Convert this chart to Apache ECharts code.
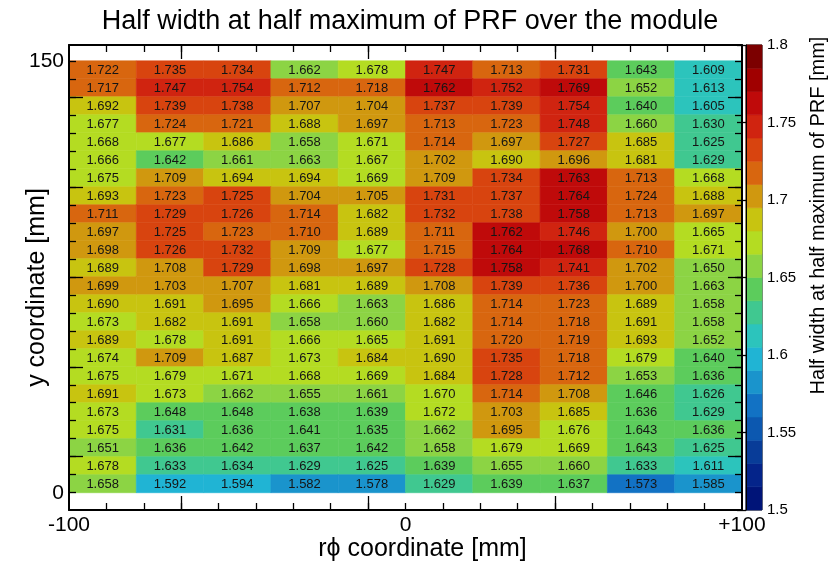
<!DOCTYPE html>
<html>
<head>
<meta charset="utf-8">
<title>PRF half width over the module</title>
<script src="https://cdn.jsdelivr.net/npm/echarts@6/dist/echarts.min.js"></script>
<style>
  html, body { margin: 0; padding: 0; background: #fff; }
  #chart { width: 840px; height: 565px; }
</style>
</head>
<body>
<div id="chart"></div>
<script>
// cell edges in mm
const colEdges = [-100, -80, -60, -40, -20, 0, 20, 40, 60, 80, 100];
const rowEdges = [0, 6.25, 12.5, 18.75, 25, 31.25, 37.5, 43.75, 50, 56.25, 62.5, 68.75,
  75, 81.25, 87.5, 93.75, 100, 106.25, 112.5, 118.75, 125, 131.25, 137.5, 143.75, 150];

// HWHM of the PRF [mm], top row first, columns left to right
const hwhm = [
  [1.722, 1.735, 1.734, 1.662, 1.678, 1.747, 1.713, 1.731, 1.643, 1.609],
  [1.717, 1.747, 1.754, 1.712, 1.718, 1.762, 1.752, 1.769, 1.652, 1.613],
  [1.692, 1.739, 1.738, 1.707, 1.704, 1.737, 1.739, 1.754, 1.640, 1.605],
  [1.677, 1.724, 1.721, 1.688, 1.697, 1.713, 1.723, 1.748, 1.660, 1.630],
  [1.668, 1.677, 1.686, 1.658, 1.671, 1.714, 1.697, 1.727, 1.685, 1.625],
  [1.666, 1.642, 1.661, 1.663, 1.667, 1.702, 1.690, 1.696, 1.681, 1.629],
  [1.675, 1.709, 1.694, 1.694, 1.669, 1.709, 1.734, 1.763, 1.713, 1.668],
  [1.693, 1.723, 1.725, 1.704, 1.705, 1.731, 1.737, 1.764, 1.724, 1.688],
  [1.711, 1.729, 1.726, 1.714, 1.682, 1.732, 1.738, 1.758, 1.713, 1.697],
  [1.697, 1.725, 1.723, 1.710, 1.689, 1.711, 1.762, 1.746, 1.700, 1.665],
  [1.698, 1.726, 1.732, 1.709, 1.677, 1.715, 1.764, 1.768, 1.710, 1.671],
  [1.689, 1.708, 1.729, 1.698, 1.697, 1.728, 1.758, 1.741, 1.702, 1.650],
  [1.699, 1.703, 1.707, 1.681, 1.689, 1.708, 1.739, 1.736, 1.700, 1.663],
  [1.690, 1.691, 1.695, 1.666, 1.663, 1.686, 1.714, 1.723, 1.689, 1.658],
  [1.673, 1.682, 1.691, 1.658, 1.660, 1.682, 1.714, 1.718, 1.691, 1.658],
  [1.689, 1.678, 1.691, 1.666, 1.665, 1.691, 1.720, 1.719, 1.693, 1.652],
  [1.674, 1.709, 1.687, 1.673, 1.684, 1.690, 1.735, 1.718, 1.679, 1.640],
  [1.675, 1.679, 1.671, 1.668, 1.669, 1.684, 1.728, 1.712, 1.653, 1.636],
  [1.691, 1.673, 1.662, 1.655, 1.661, 1.670, 1.714, 1.708, 1.646, 1.626],
  [1.673, 1.648, 1.648, 1.638, 1.639, 1.672, 1.703, 1.685, 1.636, 1.629],
  [1.675, 1.631, 1.636, 1.641, 1.635, 1.662, 1.695, 1.676, 1.643, 1.636],
  [1.651, 1.636, 1.642, 1.637, 1.642, 1.658, 1.679, 1.669, 1.643, 1.625],
  [1.678, 1.633, 1.634, 1.629, 1.625, 1.639, 1.655, 1.660, 1.633, 1.611],
  [1.658, 1.592, 1.594, 1.582, 1.578, 1.629, 1.639, 1.637, 1.573, 1.585]
];

// axis ticks / labels
const xLabels = [-100, 0, 100];
const yLabels = [0, 150];
const xMajorTicks = [-66.67, -11.11, 44.44];
const xMinorTicks = [-88.89, -77.78, -66.67, -55.56, -44.44, -33.33, -22.22, -11.11, 0,
  11.11, 22.22, 33.33, 44.44, 55.56, 66.67, 77.78, 88.89];
const yMajorTicks = [12.5, 43.75, 75, 106.25, 137.5];
const yMinorTicks = rowEdges;

// colour palette, 20 bands from 1.5 to 1.8
const bandEdges = [1.5, 1.515, 1.53, 1.545, 1.56, 1.575, 1.59, 1.605, 1.62, 1.635, 1.65,
  1.665, 1.68, 1.695, 1.71, 1.725, 1.74, 1.755, 1.77, 1.785, 1.8];
const palette = ['#001478', '#04248a', '#083c98', '#0c58b0', '#1272c4', '#1a94cc', '#20b4d4',
  '#2cc4bc', '#40c890', '#5ccc5c', '#8cd444', '#b4dc22', '#c8c410', '#d0980f', '#d8660f',
  '#d8440f', '#d02410', '#bf0a0a', '#a00000', '#7c0000'];

const FONT = '"Liberation Sans", Arial, Helvetica, sans-serif';
const nRows = hwhm.length;

const cellData = [];
hwhm.forEach((row, i) => {
  row.forEach((v, j) => {
    cellData.push([j, nRows - 1 - i, v]);
  });
});

const bandData = [];
for (let k = 0; k < palette.length; k++) {
  bandData.push([bandEdges[k], bandEdges[k + 1], (bandEdges[k] + bandEdges[k + 1]) / 2]);
}

const pieces = palette.map((c, k) => {
  const p = { gte: bandEdges[k], color: c };
  if (k === palette.length - 1) p.lte = bandEdges[k + 1];
  else p.lt = bandEdges[k + 1];
  return p;
});

const renderCell = (params, api) => {
  const c = api.value(0);
  const r = api.value(1);
  const p0 = api.coord([colEdges[c], rowEdges[r + 1]]);
  const p1 = api.coord([colEdges[c + 1], rowEdges[r]]);
  const color = api.visual('color');
  return {
    type: 'group',
    children: [
      {
        type: 'rect',
        shape: { x: p0[0], y: p0[1], width: p1[0] - p0[0], height: p1[1] - p0[1] },
        style: { fill: color, stroke: color, lineWidth: 0.6 }
      },
      {
        type: 'text',
        style: {
          text: api.value(2).toFixed(3),
          x: (p0[0] + p1[0]) / 2,
          y: (p0[1] + p1[1]) / 2 + 1,
          align: 'center',
          verticalAlign: 'middle',
          font: '13px ' + FONT,
          fill: '#151515'
        }
      }
    ]
  };
};

const renderBand = (params, api) => {
  const p0 = api.coord([0, api.value(1)]);
  const p1 = api.coord([1, api.value(0)]);
  const color = api.visual('color');
  return {
    type: 'rect',
    shape: { x: p0[0], y: p0[1], width: p1[0] - p0[0], height: p1[1] - p0[1] },
    style: { fill: color, stroke: color, lineWidth: 0.6 }
  };
};

const tickAxis = (kind, gridIndex, position, ticks, len, withLine) => ({
  type: 'value',
  gridIndex: gridIndex,
  position: position,
  min: kind === 'x' ? -100 : -6,
  max: kind === 'x' ? 100 : 155.5,
  z: 5,
  axisLine: { show: withLine, onZero: false, lineStyle: { color: '#000', width: 2 } },
  axisTick: { show: true, inside: true, length: len, customValues: ticks,
    lineStyle: { color: '#000', width: 1.3 } },
  axisLabel: { show: false },
  splitLine: { show: false }
});

const chartDom = document.getElementById('chart');
const chart = echarts.init(chartDom);

const xMain = tickAxis('x', 0, 'bottom', xMajorTicks, 14, true);
xMain.axisLabel = {
  show: true,
  customValues: xLabels,
  formatter: (v) => (v > 0 ? '+' + v : String(v)),
  fontSize: 21,
  fontFamily: FONT,
  color: '#000',
  margin: 5
};
xMain.name = 'rϕ coordinate [mm]';
xMain.nameLocation = 'middle';
xMain.nameGap = 27;
xMain.nameMoveOverlap = false;
xMain.nameTextStyle = { fontSize: 25, fontFamily: FONT, color: '#000', padding: [0, 0, 0, 34] };

const yMain = tickAxis('y', 0, 'left', yMajorTicks, 14, true);
yMain.axisLabel = {
  show: true,
  customValues: yLabels,
  fontSize: 21,
  fontFamily: FONT,
  color: '#000',
  margin: 5
};
yMain.name = 'y coordinate [mm]';
yMain.nameLocation = 'middle';
yMain.nameGap = 19;
yMain.nameRotate = 90;
yMain.nameMoveOverlap = false;
yMain.nameTextStyle = { fontSize: 25, fontFamily: FONT, color: '#000', padding: [0, 20, 0, 0] };

chart.setOption({
  animation: false,
  backgroundColor: '#fff',
  title: {
    text: 'Half width at half maximum of PRF over the module',
    left: 405,
    top: 3,
    textAlign: 'center',
    textStyle: { fontSize: 27, fontWeight: 'normal', fontFamily: FONT, color: '#000' }
  },
  grid: [
    { left: 69, right: 98, top: 45, bottom: 55, outerBoundsMode: 'none', containLabel: false },
    { left: 746, right: 78, top: 45, bottom: 55, outerBoundsMode: 'none', containLabel: false,
      show: true, borderColor: '#000', borderWidth: 1, backgroundColor: 'transparent' }
  ],
  visualMap: {
    type: 'piecewise',
    show: false,
    dimension: 2,
    seriesIndex: [0, 1],
    pieces: pieces
  },
  xAxis: [
    xMain,
    tickAxis('x', 0, 'top', xMajorTicks, 14, true),
    tickAxis('x', 0, 'bottom', xMinorTicks, 7, false),
    tickAxis('x', 0, 'top', xMinorTicks, 7, false),
    {
      type: 'value', gridIndex: 1, min: 0, max: 1, z: 5,
      axisLine: { show: false }, axisTick: { show: false },
      axisLabel: { show: false }, splitLine: { show: false }
    }
  ],
  yAxis: [
    yMain,
    tickAxis('y', 0, 'right', yMajorTicks, 14, true),
    tickAxis('y', 0, 'left', yMinorTicks, 7, false),
    tickAxis('y', 0, 'right', yMinorTicks, 7, false),
    {
      type: 'value', gridIndex: 1, position: 'right', min: 1.5, max: 1.8, interval: 0.05, z: 5,
      axisLine: { show: true, lineStyle: { color: '#000', width: 1 } },
      axisTick: { show: true, inside: true, length: 9, lineStyle: { color: '#000', width: 1.3 } },
      axisLabel: { fontSize: 15, fontFamily: FONT, color: '#000', margin: 5 },
      splitLine: { show: false },
      name: 'Half width at half maximum of PRF [mm]',
      nameLocation: 'middle',
      nameRotate: 90,
      nameGap: 46,
      nameMoveOverlap: false,
      nameTextStyle: { fontSize: 20, fontFamily: FONT, color: '#000', padding: [0, 0, 0, 124] }
    }
  ],
  series: [
    {
      type: 'custom',
      name: 'HWHM',
      xAxisIndex: 0,
      yAxisIndex: 0,
      z: 2,
      renderItem: renderCell,
      data: cellData
    },
    {
      type: 'custom',
      name: 'palette',
      xAxisIndex: 4,
      yAxisIndex: 4,
      z: 2,
      renderItem: renderBand,
      data: bandData
    }
  ]
});

window.addEventListener('resize', () => chart.resize());
</script>
</body>
</html>
